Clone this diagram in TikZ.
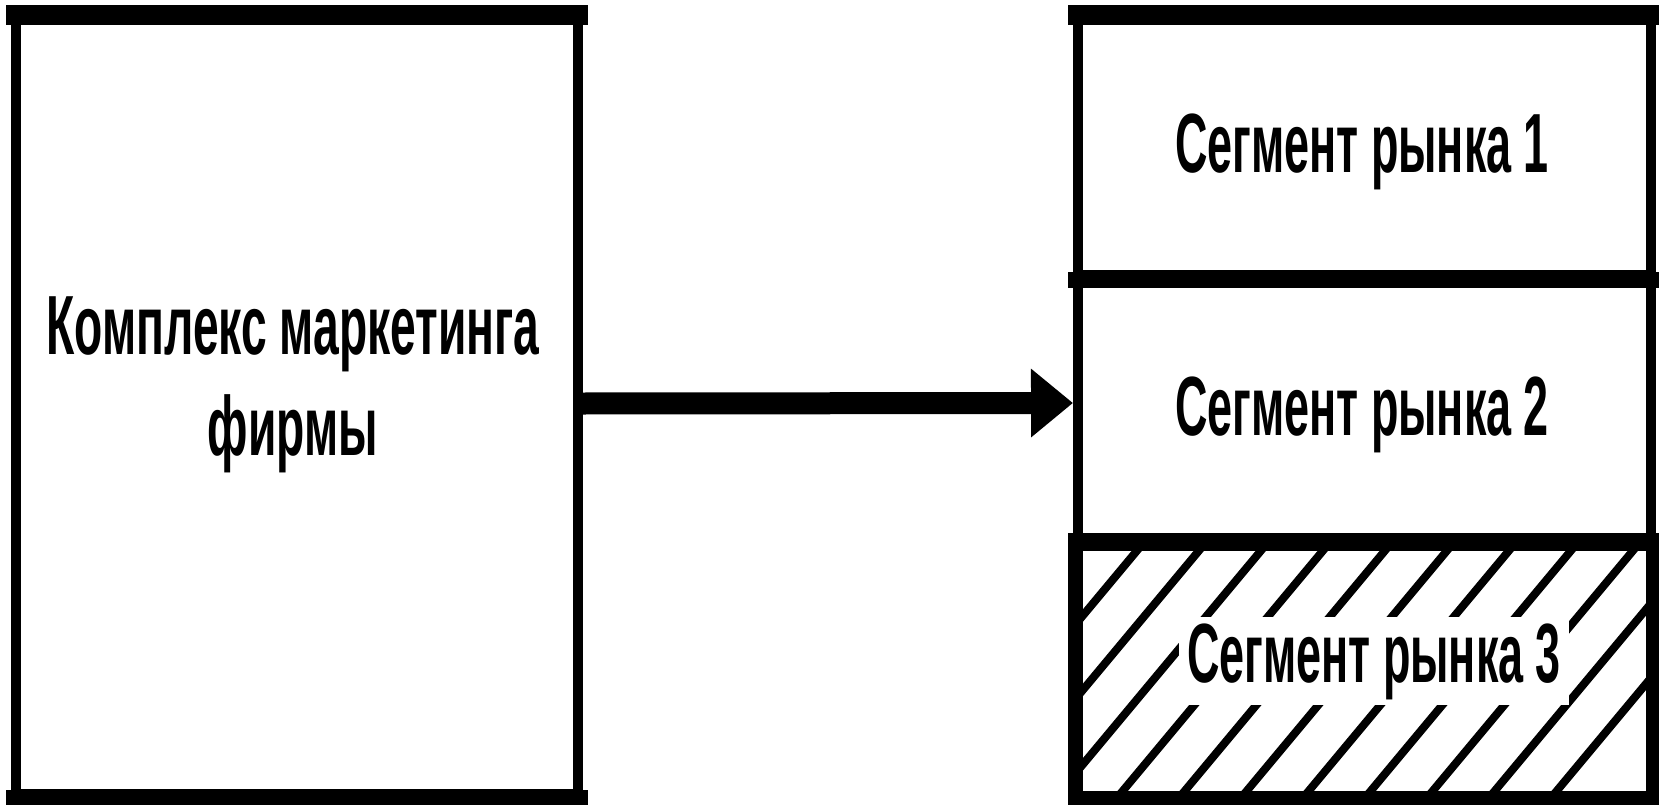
\documentclass[tikz,border=0pt]{standalone}
\usepackage{fontspec}
\setmainfont{Liberation Sans}
\newfontfamily\labfont[FakeStretch=0.55]{Liberation Sans}
\newfontfamily\segfont[FakeStretch=0.535]{Liberation Sans}
\usetikzlibrary{arrows.meta}
\begin{document}
\begin{tikzpicture}[x=1pt,y=-1pt,
  frame/.style={draw=black, line width=10pt, inner sep=0pt, rectangle},
  heavy/.style={line width=#1, shorten <=-5pt, shorten >=-5pt},
  hatchline/.style={line width=8pt},
  lab/.style={font=\labfont\bfseries\fontsize{84}{101}\selectfont, inner sep=0pt},
  seg/.style={font=\segfont\bfseries\fontsize{84}{101}\selectfont, inner sep=0pt},
  link/.style={line width=22pt, -{Triangle[length=42pt,width=66pt]}}]
\useasboundingbox (0,0) rectangle (1659,805);
\fill[white] (0,0) rectangle (1659,805);
% left box
\node[frame, minimum width=562pt, minimum height=773pt] (L) at (297,407) {};
\node[lab, align=center, anchor=north] (Lt) at (293,297) {Комплекс маркетинга\\фирмы};
% right box segments
\node[frame, minimum width=573pt, minimum height=255pt] (S1) at (1364.5,147.5) {};
\node[frame, minimum width=573pt, minimum height=263pt] (S2) at (1364.5,406.5) {};
\node[frame, minimum width=573pt, minimum height=258pt] (S3) at (1364.5,667) {};
% hatching of segment 3
\begin{scope}
  \clip (S3.south west) rectangle (S3.north east);
  \foreach \k in {-12,...,9}
    \draw[hatchline] ({1202+62*\k-215},805) -- ({1202+62*\k+25},517);
\end{scope}
\draw[line width=10pt] (S3.north west) -- (S3.south west) (S3.north east) -- (S3.south east);
% texts
\node[seg, anchor=base] (T1) at (1362,173) {Сегмент рынка 1};
\node[seg, anchor=base] (T2) at (1362,435) {Сегмент рынка 2};
\node[seg, anchor=base, fill=white, inner xsep=8pt, inner ysep=6pt] (T3) at (1374,682) {Сегмент рынка 3};
% heavy horizontal lines
\draw[heavy=20pt] (L.north west) -- (L.north east);
\draw[heavy=17pt] (L.south west) -- (L.south east);
\draw[heavy=20pt] (S1.north west) -- (S1.north east);
\draw[heavy=16pt] (S1.south west) -- (S1.south east);
\draw[heavy=16pt] (S2.south west) -- (S2.south east);
\draw[heavy=14pt] (S3.south west) -- (S3.south east);
% arrow
\draw[link] ([yshift=3.5pt]L.east) -- ([yshift=3.5pt]S2.west);
\end{tikzpicture}
\end{document}
